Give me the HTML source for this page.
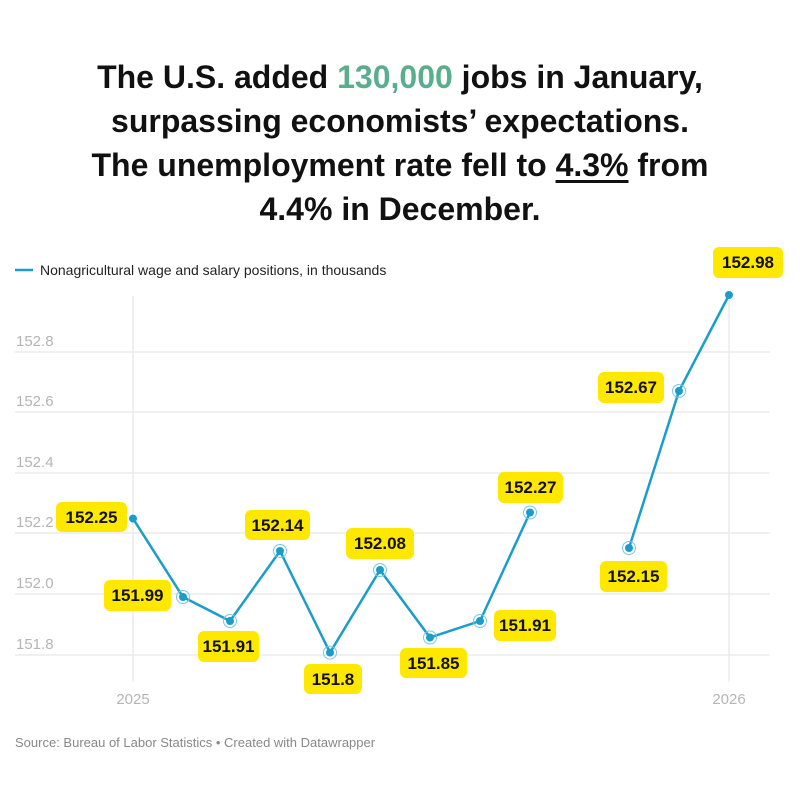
<!DOCTYPE html>
<html><head><meta charset="utf-8"><style>
body{margin:0;background:#fff;width:800px;height:800px;overflow:hidden;font-family:"Liberation Sans",sans-serif;}
.t{position:absolute;left:0;width:800px;top:55px;text-align:center;font-weight:bold;font-size:32px;line-height:44px;color:#111;letter-spacing:0px}
</style></head><body>
<div class="t">The U.S. added <span style="color:#5aae8f">130,000</span> jobs in January,<br>surpassing economists’ expectations.<br>The unemployment rate fell to <span style="text-decoration:underline;text-underline-offset:4px">4.3%</span> from<br>4.4% in December.</div>
<svg width="800" height="800" style="position:absolute;left:0;top:0" font-family="Liberation Sans, sans-serif">
<line x1="15" y1="270" x2="33" y2="270" stroke="#1a9dcc" stroke-width="2.5"/>
<text x="40" y="275" font-size="14" fill="#222">Nonagricultural wage and salary positions, in thousands</text>
<g stroke="#ececec" stroke-width="1.5">
<line x1="15" y1="352" x2="770" y2="352"/><line x1="15" y1="412" x2="770" y2="412"/><line x1="15" y1="473" x2="770" y2="473"/><line x1="15" y1="533" x2="770" y2="533"/><line x1="15" y1="594" x2="770" y2="594"/><line x1="15" y1="655" x2="770" y2="655"/>
<line x1="133" y1="296" x2="133" y2="682"/><line x1="729" y1="296" x2="729" y2="682"/>
</g>
<g font-size="15" fill="#b5b5b5">
<text x="16" y="346">152.8</text><text x="16" y="406">152.6</text><text x="16" y="467">152.4</text><text x="16" y="527">152.2</text><text x="16" y="588">152.0</text><text x="16" y="649">151.8</text>
<text x="133" y="704" text-anchor="middle">2025</text><text x="729" y="704" text-anchor="middle">2026</text>
</g>
<g fill="none" stroke="#1a9dcc" stroke-width="2.5">
<polyline points="133,518.6 183,597 230,621 280,551 330,652.6 380,570 430,637.5 480,621 530,512.5"/>
<polyline points="629,548 679,391 729,295"/>
</g>
<g fill="#1a9dcc">
<circle cx="133" cy="518.6" r="4"/><circle cx="183" cy="597" r="4"/><circle cx="230" cy="621" r="4"/><circle cx="280" cy="551" r="4"/><circle cx="330" cy="652.6" r="4"/><circle cx="380" cy="570" r="4"/><circle cx="430" cy="637.5" r="4"/><circle cx="480" cy="621" r="4"/><circle cx="530" cy="512.5" r="4"/><circle cx="629" cy="548" r="4"/><circle cx="679" cy="391" r="4"/><circle cx="729" cy="295" r="4"/>
</g>
<g fill="none" stroke="#7cc6e2" stroke-width="1">
<circle cx="183" cy="597" r="6.5"/><circle cx="230" cy="621" r="6.5"/><circle cx="280" cy="551" r="6.5"/><circle cx="330" cy="652.6" r="6.5"/><circle cx="380" cy="570" r="6.5"/><circle cx="430" cy="637.5" r="6.5"/><circle cx="480" cy="621" r="6.5"/><circle cx="530" cy="512.5" r="6.5"/><circle cx="629" cy="548" r="6.5"/><circle cx="679" cy="391" r="6.5"/>
</g>
<g fill="#ffe800">
<rect x="56" y="502" width="71" height="30" rx="6"/>
<rect x="104" y="580" width="67" height="31" rx="6"/>
<rect x="198" y="631" width="61" height="31" rx="6"/>
<rect x="245" y="510" width="65" height="30" rx="6"/>
<rect x="304" y="664" width="58" height="30" rx="6"/>
<rect x="346" y="528" width="68" height="31" rx="6"/>
<rect x="400" y="648" width="67" height="30" rx="6"/>
<rect x="494" y="610" width="62" height="31" rx="6"/>
<rect x="498" y="472" width="65" height="31" rx="6"/>
<rect x="600" y="561" width="67" height="31" rx="6"/>
<rect x="598" y="372" width="66" height="31" rx="6"/>
<rect x="713" y="247" width="70" height="31" rx="6"/>
</g>
<g font-size="17" font-weight="bold" fill="#111" text-anchor="middle">
<text x="91.5" y="523">152.25</text>
<text x="137.5" y="601">151.99</text>
<text x="228.5" y="652">151.91</text>
<text x="277.5" y="531">152.14</text>
<text x="333" y="685">151.8</text>
<text x="380" y="549">152.08</text>
<text x="433.5" y="669">151.85</text>
<text x="525" y="631">151.91</text>
<text x="530.5" y="493">152.27</text>
<text x="633.5" y="582">152.15</text>
<text x="631" y="393">152.67</text>
<text x="748" y="268">152.98</text>
</g>
<text x="15" y="747" font-size="13" fill="#888">Source: Bureau of Labor Statistics • Created with Datawrapper</text>
</svg>
</body></html>
